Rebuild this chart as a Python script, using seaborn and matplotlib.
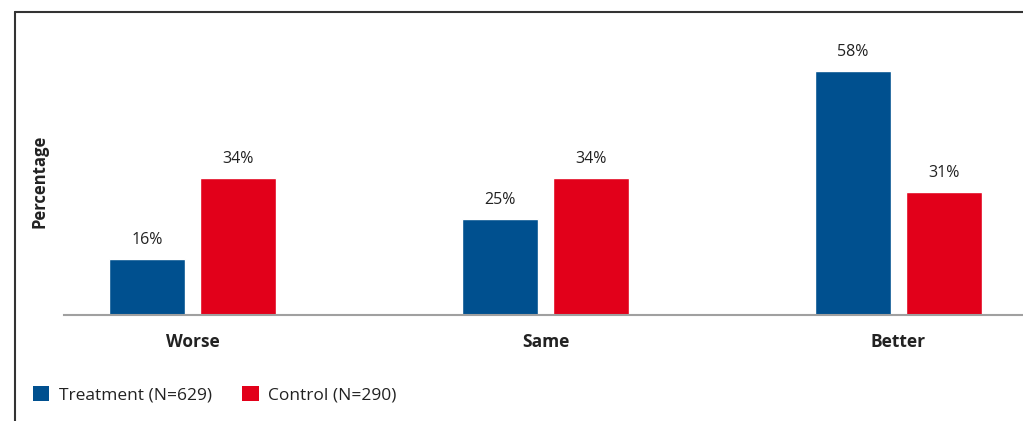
import matplotlib
matplotlib.use("Agg")
import matplotlib.pyplot as plt
import seaborn as sns
import pandas as pd
from matplotlib.lines import Line2D
from matplotlib.patches import Patch

categories = ["Worse", "Same", "Better"]
groups = ["Treatment (N=629)", "Control (N=290)"]
treatment = [16, 25, 58]
control = [34, 34, 31]
colors = ["#00508F", "#E2001A"]

df = pd.DataFrame({
    "category": categories * 2,
    "group": [groups[0]] * 3 + [groups[1]] * 3,
    "value": treatment + control,
})

sns.set_theme(style="white")
plt.rcParams["font.family"] = ["Open Sans", "DejaVu Sans"]

W, H = 1023, 421
fig = plt.figure(figsize=(W / 100, H / 100), dpi=100)
ax_l, ax_r, ax_b, ax_t = 64, 1022, 315, 40
ax = fig.add_axes([ax_l / W, 1 - ax_b / H, (ax_r - ax_l) / W, (ax_b - ax_t) / H])

sns.barplot(data=df, x="category", y="value", hue="group", order=categories,
            hue_order=groups, palette=colors, width=0.5156, gap=0.165,
            saturation=1, ax=ax, legend=False)

ax.set_xlim(-0.364, 2.35)
ax.set_ylim(3.5, 64.94)
for s in ["top", "right", "left"]:
    ax.spines[s].set_visible(False)
ax.spines["bottom"].set_color("#A0A0A0")
ax.spines["bottom"].set_linewidth(1.5)
ax.set_yticks([])
ax.set_xlabel("")
ax.set_ylabel("")
ax.tick_params(axis="x", length=0, pad=13)
for lbl in ax.get_xticklabels():
    lbl.set_fontweight("bold")
    lbl.set_fontsize(12.5)
    lbl.set_color("#222222")

for cont in ax.containers:
    ax.bar_label(cont, labels=[f"{int(v)}%" for v in cont.datavalues],
                 padding=8, fontsize=11.5, color="#222222")

fig.text(40 / W, 1 - 181 / H, "Percentage", rotation=90, fontsize=12,
         fontweight="bold", ha="center", va="center", color="#222222")

# figure frame lines (top and left)
fig.add_artist(Line2D([15 / W, 15 / W], [0, 1 - 12 / H], color="#333333", lw=1.5,
                      transform=fig.transFigure))
fig.add_artist(Line2D([15 / W, 1], [1 - 12 / H, 1 - 12 / H], color="#333333", lw=1.5,
                      transform=fig.transFigure))

handles = [Patch(facecolor=c, edgecolor="none") for c in colors]
fig.legend(handles, groups, loc="center left", bbox_to_anchor=(17 / W, 1 - 395 / H),
           ncol=2, frameon=False, fontsize=12.5, handlelength=0.95, handleheight=0.95,
           handletextpad=0.55, columnspacing=1.75, labelcolor="#222222")

fig.savefig("out.png", dpi=100)
